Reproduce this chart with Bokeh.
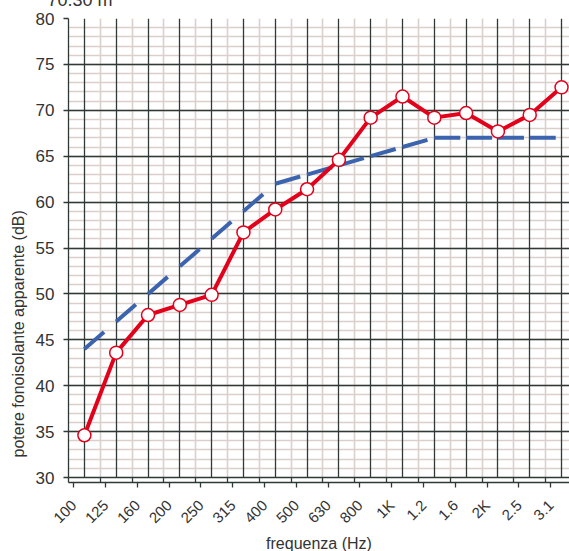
import numpy as np
from bokeh.plotting import figure
from bokeh.models import (Range1d, FixedTicker, SingleIntervalTicker, Grid,
                          LinearAxis, Title)
from bokeh.embed import file_html
from bokeh.resources import INLINE
from math import pi

# ---- data ----
bands = ["100", "125", "160", "200", "250", "315", "400", "500", "630",
         "800", "1K", "1.2", "1.6", "2K", "2.5", "3.1"]
measured = [34.6, 43.6, 47.7, 48.8, 49.9, 56.7, 59.2, 61.4, 64.6,
            69.2, 71.5, 69.2, 69.7, 67.7, 69.5, 72.5]
reference = [44, 47, 50, 53, 56, 59, 62, 63, 64, 65, 66, 67, 67, 67, 67, 67]
caption = "70.30 m"
x_title = "frequenza (Hz)"
y_title = "potere fonoisolante apparente (dB)"

n = len(bands)
xc = np.arange(n) + 0.5  # data points sit between band ticks
label_pos = np.arange(n) + 0.16

DARK = "#2f3a37"
LIGHT = "#d9cfcb"
RED = "#e3001b"
BLUE = "#3c63ae"
TXT = "#333333"
FONT = "Liberation Sans"

p = figure(frame_width=501, frame_height=459, output_backend="svg",
           toolbar_location=None,
           x_range=Range1d(0, 15.75), y_range=Range1d(30, 80),
           min_border_left=68, min_border_right=0, min_border_top=40,
           min_border_bottom=0)
p.styles = {"margin-top": "-22px", "margin-left": "0px"}
p.outline_line_color = None
p.background_fill_color = "white"
p.border_fill_color = "white"

# ---- grids: light first, dark on top ----
p.xgrid.ticker = FixedTicker(ticks=list(range(n + 1)))
p.xgrid.grid_line_color = LIGHT
p.xgrid.grid_line_width = 1.6
p.ygrid.ticker = SingleIntervalTicker(interval=1)
p.ygrid.grid_line_color = LIGHT
p.ygrid.grid_line_width = 1.6

gx = Grid(dimension=0, ticker=FixedTicker(ticks=list(xc)),
          grid_line_color=DARK, grid_line_width=1.3)
gy = Grid(dimension=1, ticker=SingleIntervalTicker(interval=5),
          grid_line_color=DARK, grid_line_width=1.3)
p.add_layout(gx)
p.add_layout(gy)

# ---- x axis: ticks on the main axis, labels on a second one ----
p.xaxis.ticker = FixedTicker(ticks=list(range(n + 1)))
p.xaxis.major_label_overrides = {i: "" for i in range(n + 1)}
p.xaxis.major_label_standoff = 0

lab_axis = LinearAxis(ticker=FixedTicker(ticks=list(label_pos)),
                      major_label_overrides={float(v): b for v, b in zip(label_pos, bands)},
                      major_label_orientation=pi / 4,
                      major_label_text_font=FONT,
                      major_label_text_font_size="15px",
                      major_label_text_color=TXT,
                      major_label_standoff=15,
                      axis_line_color=None, major_tick_line_color=None,
                      minor_tick_line_color=None,
                      axis_label=x_title, axis_label_text_font=FONT,
                      axis_label_text_font_style="normal",
                      axis_label_text_font_size="16px",
                      axis_label_text_color=TXT, axis_label_standoff=0)
p.add_layout(lab_axis, "below")

# ---- y axis ----
p.yaxis.ticker = SingleIntervalTicker(interval=5)
p.yaxis.major_label_text_font = FONT
p.yaxis.major_label_text_font_size = "17px"
p.yaxis.major_label_text_color = TXT
p.yaxis.major_label_standoff = 9

for ax in (p.xaxis, p.yaxis):
    ax.axis_line_color = DARK
    ax.axis_line_width = 1.3
    ax.major_tick_line_color = DARK
    ax.major_tick_line_width = 1.3
    ax.major_tick_out = 5
    ax.major_tick_in = 0
    ax.minor_tick_line_color = None

# y title placed like the original (below the frame centre)
yt = Title(text=y_title, align="left", offset=20, standoff=12,
           text_font=FONT, text_font_size="16px", text_font_style="normal",
           text_color=TXT)
p.add_layout(yt, "left")

# top caption, clipped by the page edge as in the original
p.title.text = caption
p.title.align = "left"
p.title.offset = -21
p.title.standoff = 17
p.title.text_font = FONT
p.title.text_font_size = "18px"
p.title.text_font_style = "normal"
p.title.text_color = TXT

# reference curve: dashed, each segment dashed independently
p.segment(x0=xc[:-1], y0=reference[:-1], x1=xc[1:], y1=reference[1:],
          line_color=BLUE, line_width=4, line_dash="26 40", line_cap="butt")

# measured curve
p.line(xc, measured, line_color=RED, line_width=4, line_join="round")
p.scatter(xc, measured, size=13, marker="circle", fill_color="white",
          line_color=RED, line_width=1.5)

open("out.html", "w").write(file_html(p, INLINE))
